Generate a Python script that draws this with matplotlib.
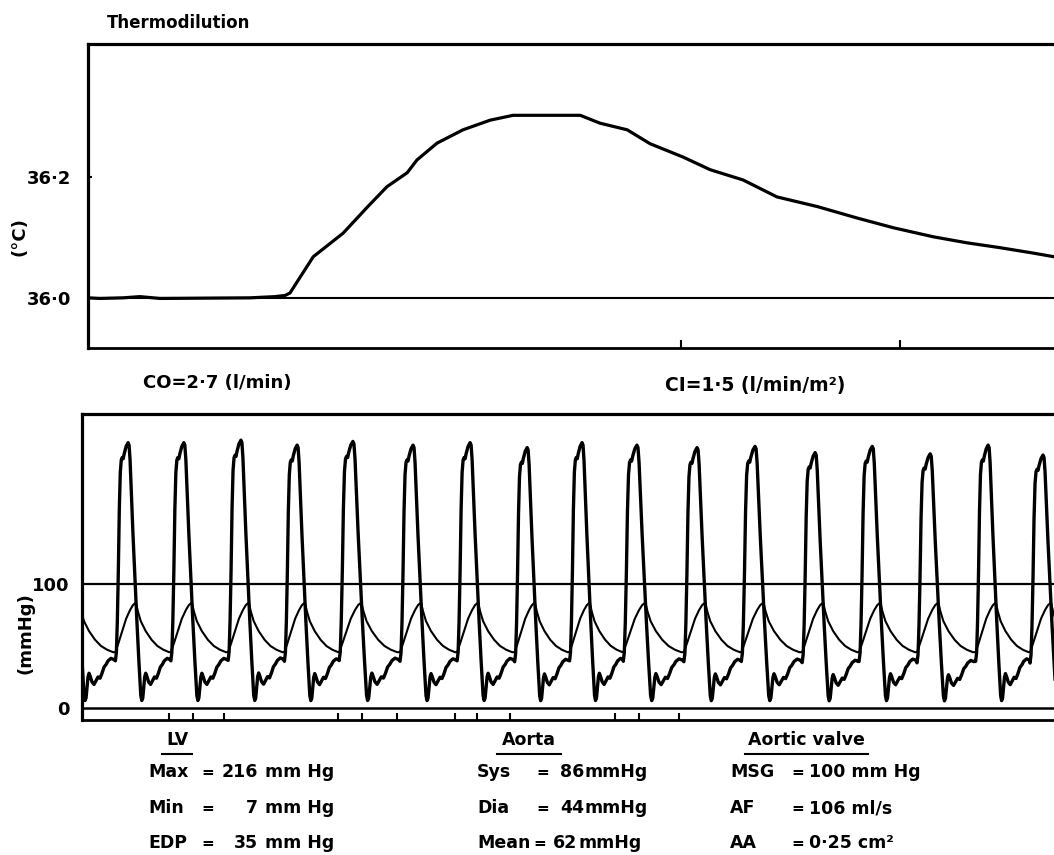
import numpy as np
import matplotlib

matplotlib.use("Agg")
import matplotlib.pyplot as plt

W, H = 1054, 855

# --- thermodilution curve (time in s, temperature in degC)
thermo_t = [0.0, 0.27, 0.8, 1.18, 1.64, 3.69, 4.26, 4.49, 4.60, 5.13, 5.81, 6.36,
            6.81, 7.27, 7.49, 7.95, 8.54, 9.16, 9.68, 11.21, 11.66, 12.28, 12.80,
            13.55, 14.17, 14.92, 15.69, 16.61, 17.52, 18.34, 19.25, 20.02, 20.77,
            21.53, 22.0]
thermo_temp = [36.0, 35.999, 36.0, 36.002, 35.999, 36.0, 36.002, 36.004, 36.008,
               36.068, 36.107, 36.150, 36.184, 36.207, 36.228, 36.256, 36.278,
               36.294, 36.302, 36.302, 36.289, 36.278, 36.255, 36.233, 36.212,
               36.195, 36.167, 36.151, 36.132, 36.116, 36.101, 36.091, 36.083,
               36.074, 36.068]
thermo_marks = [13.51, 18.50]

# --- pressure recording: one LV beat and one aortic beat, offsets from LV peak (s)
beat_times = [-0.25, 1.05, 2.32, 3.62, 4.90, 6.17, 7.54, 8.84, 10.14, 11.39, 12.64,
              14.01, 15.33, 16.70, 18.00, 19.32, 20.64, 21.89, 23.19]
lv_peaks = [214, 214, 214, 216, 212, 215, 212, 214, 210, 214, 212, 210, 211, 206,
            211, 205, 212, 204, 205]
lv_off = [-0.296, -0.273, -0.251, -0.228, -0.205, -0.182, -0.159, -0.137, -0.114,
          -0.091, -0.046, 0.0, 0.023, 0.046, 0.068, 0.114, 0.159, 0.205, 0.251,
          0.296, 0.319, 0.342, 0.364, 0.387, 0.410, 0.433, 0.478, 0.524, 0.569,
          0.615, 0.661, 0.706, 0.752, 0.797, 0.843, 0.911, 0.980]
lv_val = [38, 45, 70, 110, 160, 190, 200, 202, 201, 205, 211, 214, 212, 200, 180,
          140, 105, 70, 38, 10, 6, 8, 16, 25, 28, 26, 21, 19, 22, 25, 24, 28, 33,
          35, 38, 40, 39]
ao_off = [-0.296, -0.228, -0.137, -0.046, 0.046, 0.114, 0.182, 0.228, 0.296, 0.410,
          0.547, 0.683, 0.820, 0.957]
ao_val = [45, 52, 62, 72, 79, 83, 85, 78, 70, 62, 55, 50, 47, 45]
ref_period = 1.30
bottom_marks = [1.98, 2.53, 3.23, 5.83, 6.38, 7.18, 8.50, 9.00, 9.75, 12.14, 12.69, 13.60]


def build_trace(offsets, values, scale_to=None):
    ts, vs = [], []
    for i, tp in enumerate(beat_times):
        period = beat_times[i + 1] - tp if i + 1 < len(beat_times) else ref_period
        k = period / ref_period
        f = 1.0 if scale_to is None else scale_to[i] / max(values)
        for o, v in zip(offsets, values):
            ts.append(tp + o * k)
            vs.append(v * f)
    return np.array(ts), np.array(vs)


lv_t, lv_p = build_trace(lv_off, lv_val, lv_peaks)
ao_t, ao_p = build_trace(ao_off, ao_val)


def px(x, y):
    return x / W, 1 - y / H


plt.rcParams["font.family"] = "DejaVu Sans"
plt.rcParams["font.weight"] = "bold"
fig = plt.figure(figsize=(W / 100, H / 100), dpi=100)

# ---------------- top panel
ax1 = fig.add_axes([88 / W, 1 - 348 / H, (W - 88) / W, (348 - 44) / H])
ax1.plot(thermo_t, thermo_temp, color="black", lw=2.3, solid_joinstyle="round")
ax1.axhline(36.0, color="black", lw=1.5)
ax1.set_xlim(0, 22.0)
ax1.set_ylim(35.917, 36.420)
ax1.set_yticks([36.0, 36.2])
ax1.set_yticklabels(["36·0", "36·2"], fontsize=13, fontweight="bold")
ax1.set_xticks(thermo_marks)
ax1.set_xticklabels([])
ax1.tick_params(axis="y", direction="in", length=3, width=1.5, pad=12)
ax1.tick_params(axis="x", direction="in", length=6, width=1.5)
ax1.spines["right"].set_visible(False)
for s in ["top", "left"]:
    ax1.spines[s].set_linewidth(2.3)
ax1.spines["bottom"].set_linewidth(2.0)

# ---------------- bottom panel
ax2 = fig.add_axes([82 / W, 1 - 720 / H, (W - 82) / W, (720 - 414) / H])
ax2.plot(ao_t, ao_p, color="black", lw=1.5)
ax2.plot(lv_t, lv_p, color="black", lw=2.4, solid_joinstyle="round")
ax2.axhline(100, color="black", lw=1.6)
ax2.axhline(0, color="black", lw=1.8)
ax2.set_xlim(0, 22.14)
ax2.set_ylim(-9.7, 237.1)
ax2.set_yticks([0, 100])
ax2.set_yticklabels(["0", "100"], fontsize=13, fontweight="bold")
ax2.set_xticks(bottom_marks)
ax2.set_xticklabels([])
ax2.tick_params(axis="y", length=0, pad=9)
ax2.tick_params(axis="x", direction="in", length=5, width=1.5)
ax2.spines["right"].set_visible(False)
for s in ["top", "left"]:
    ax2.spines[s].set_linewidth(2.3)
ax2.spines["bottom"].set_linewidth(2.0)

# ---------------- texts
fig.text(*px(107, 23), "Thermodilution", fontsize=12, va="center")
fig.text(*px(20, 237), "(°C)", fontsize=13, rotation=90, ha="center", va="center")
fig.text(*px(25, 633), "(mmHg)", fontsize=13, rotation=90, ha="center", va="center")
fig.text(*px(143, 383), "CO=2·7 (l/min)", fontsize=13, va="center")
fig.text(*px(665, 385), "CI=1·5 (l/min/m²)", fontsize=13.5, va="center")

fs = 12.5
eq = 11
headers = [("LV", 177, 162, 192), ("Aorta", 529, 497, 561), ("Aortic valve", 806, 745, 868)]
for txt, xc, x0, x1 in headers:
    fig.text(*px(xc, 740), txt, fontsize=fs, ha="center", va="center")
    fig.add_artist(plt.Line2D([x0 / W, x1 / W], [1 - 754 / H] * 2, color="black", lw=1.5))

rows_y = [772, 808, 843]
lv_rows = [("Max", "216", "mm Hg"), ("Min", "7", "mm Hg"), ("EDP", "35", "mm Hg")]
for y, (a, b, c) in zip(rows_y, lv_rows):
    fig.text(*px(148, y), a, fontsize=fs, va="center")
    fig.text(*px(208, y), "=", fontsize=eq, va="center", ha="center")
    fig.text(*px(258, y), b, fontsize=fs, va="center", ha="right")
    fig.text(*px(265, y), c, fontsize=fs, va="center")

ao_rows = [("Sys", "86", "mmHg", 543, 560, 585), ("Dia", "44", "mmHg", 543, 560, 585),
           ("Mean", "62", "mmHg", 540, 553, 578)]
for y, (a, b, c, xe, xv, xu) in zip(rows_y, ao_rows):
    fig.text(*px(477, y), a, fontsize=fs, va="center")
    fig.text(*px(xe, y), "=", fontsize=eq, va="center", ha="center")
    fig.text(*px(xv, y), b, fontsize=fs, va="center")
    fig.text(*px(xu, y), c, fontsize=fs, va="center")

av_rows = [("MSG", "100 mm Hg"), ("AF", "106 ml/s"), ("AA", "0·25 cm²")]
for y, (a, c) in zip(rows_y, av_rows):
    fig.text(*px(730, y), a, fontsize=fs, va="center")
    fig.text(*px(798, y), "=", fontsize=eq, va="center", ha="center")
    fig.text(*px(809, y), c, fontsize=fs, va="center")

plt.savefig("out.png", dpi=100)
